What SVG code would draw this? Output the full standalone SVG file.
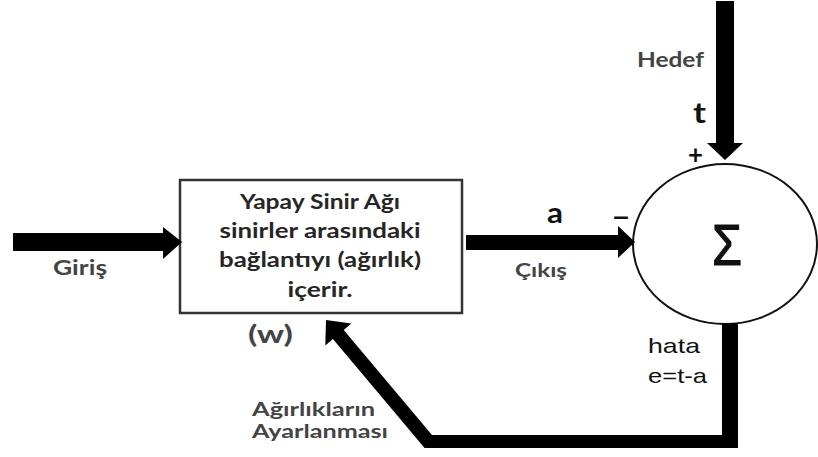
<svg xmlns="http://www.w3.org/2000/svg" width="818" height="457" viewBox="0 0 818 457">
  <style>
    .lbl { font-family: Lato, "Open Sans", "Liberation Sans", sans-serif; font-weight: bold; fill: #444; }
    .box-txt { font-family: Lato, "Open Sans", "Liberation Sans", sans-serif; font-weight: bold; fill: #262626; font-size: 21px; text-anchor: middle; }
    .sym { font-family: Lato, "Open Sans", "Liberation Sans", sans-serif; font-weight: bold; fill: #111; }
    .err { font-family: "Liberation Sans", Arial, sans-serif; fill: #111; font-size: 21px; }
    .bar { fill: #000; }
  </style>
  <rect width="818" height="457" fill="#fff"/>

  <!-- Neural network block -->
  <g id="network">
    <rect x="180" y="180" width="282" height="133" fill="#fff" stroke="#333" stroke-width="2.5"/>
    <text class="box-txt" x="320" y="209" textLength="160" lengthAdjust="spacingAndGlyphs">Yapay Sinir Ağı</text>
    <text class="box-txt" x="320" y="238" textLength="201" lengthAdjust="spacingAndGlyphs">sinirler arasındaki</text>
    <text class="box-txt" x="320" y="267" textLength="202" lengthAdjust="spacingAndGlyphs">bağlantıyı (ağırlık)</text>
    <text class="box-txt" x="320" y="297" textLength="65" lengthAdjust="spacingAndGlyphs">içerir.</text>
  </g>

  <!-- Summing junction -->
  <g id="sum">
    <ellipse cx="725" cy="244" rx="92" ry="80" fill="#fff" stroke="#111" stroke-width="2"/>
    <text x="727" y="265" font-family="'Liberation Sans', Arial, sans-serif" font-size="58" fill="#111" stroke="#111" stroke-width="1.2" text-anchor="middle" textLength="30" lengthAdjust="spacingAndGlyphs">Σ</text>
  </g>

  <!-- Connectors -->
  <g id="connectors">
    <!-- input -->
    <rect class="bar" x="13" y="233" width="151" height="18"/>
    <polygon class="bar" points="163,227 182,242 163,259"/>
    <!-- output a -->
    <rect class="bar" x="466" y="235" width="153" height="15"/>
    <polygon class="bar" points="618,226 635,242 618,258"/>
    <!-- target t -->
    <rect class="bar" x="716" y="1" width="18" height="143"/>
    <polygon class="bar" points="707,143 725,160 743,143"/>
    <!-- error feedback to weights -->
    <path class="bar" d="M722,323 H738 V448 H424.6 L332.9,339.1 L325.3,345.6 L326,320 L351.3,323.6 L343.7,330.1 L432,435 H722 Z"/>
  </g>

  <!-- Labels -->
  <g id="labels">
    <text class="lbl" x="53" y="275" font-size="21" textLength="54" lengthAdjust="spacingAndGlyphs">Giriş</text>
    <text class="lbl" x="515" y="277" font-size="19" textLength="52" lengthAdjust="spacingAndGlyphs">Çıkış</text>
    <text class="lbl" x="637" y="67" font-size="21" textLength="67" lengthAdjust="spacingAndGlyphs">Hedef</text>
    <text class="lbl" x="248" y="343" font-size="24" fill="#333" textLength="45" lengthAdjust="spacingAndGlyphs">(w)</text>
    <text class="lbl" x="252" y="416" font-size="19" textLength="123" lengthAdjust="spacingAndGlyphs">Ağırlıkların</text>
    <text class="lbl" x="252" y="438" font-size="19" textLength="136" lengthAdjust="spacingAndGlyphs">Ayarlanması</text>
    <text class="sym" x="693" y="123" font-size="28" textLength="13" lengthAdjust="spacingAndGlyphs">t</text>
    <text class="sym" x="547" y="223" font-size="28" textLength="16" lengthAdjust="spacingAndGlyphs">a</text>
    <text class="sym" x="688" y="164" font-size="26" textLength="15" lengthAdjust="spacingAndGlyphs">+</text>
    <text class="sym" x="612" y="227" font-size="26" textLength="18" lengthAdjust="spacingAndGlyphs">−</text>
    <text class="err" x="648" y="353" textLength="52" lengthAdjust="spacingAndGlyphs">hata</text>
    <text class="err" x="648" y="383" textLength="59" lengthAdjust="spacingAndGlyphs">e=t-a</text>
  </g>
</svg>
